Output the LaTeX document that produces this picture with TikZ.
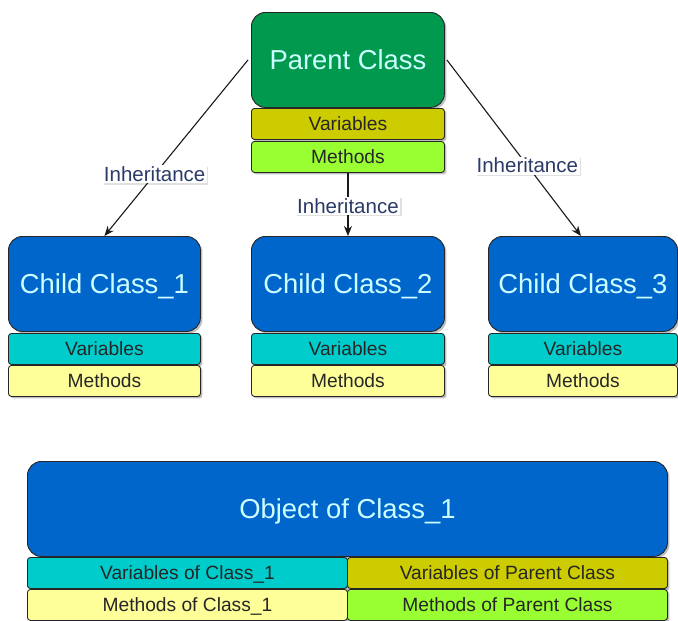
\documentclass[tikz,border=0pt]{standalone}
\usepackage{fontspec}
\setmainfont{Liberation Sans}
\usetikzlibrary{shadows,arrows.meta}
\definecolor{pgreen}{HTML}{00994D}
\definecolor{polive}{HTML}{CCCC00}
\definecolor{plime}{HTML}{99FF33}
\definecolor{cblue}{HTML}{0066CC}
\definecolor{ccyan}{HTML}{00CCCC}
\definecolor{cyell}{HTML}{FFFF99}
\definecolor{ltxt}{HTML}{CCFFFF}
\definecolor{ltext}{HTML}{2B3A67}
\tikzset{
  shad/.style={drop shadow={shadow xshift=2pt,shadow yshift=-2pt,fill=black,opacity=0.25}},
  bigbox/.style={draw=black!85, line width=0.9pt, rounded corners=14pt, anchor=north west,
    minimum height=95pt, inner sep=0pt, text=ltxt, font=\fontsize{27.4}{30}\selectfont,
    text height=20pt, text depth=0pt, shad},
  bar/.style={draw=black!85, line width=0.9pt, rounded corners=3pt, anchor=north west,
    minimum height=31pt, inner sep=0pt, text=black!85, font=\fontsize{19.2}{22}\selectfont,
    text height=14pt, text depth=0pt, shad},
  inh/.style={fill=white, text=ltext, inner sep=1.5pt, font=\fontsize{20.5}{22}\selectfont,
    drop shadow={shadow xshift=1.5pt,shadow yshift=-1.5pt,fill=black,opacity=0.12}},
  arr/.style={draw=black!90, line width=1.1pt, -{Stealth[length=10pt,width=8pt]}}
}
\begin{document}
\begin{tikzpicture}[x=1pt,y=-1pt]
\useasboundingbox (0,0) rectangle (678,621);
% Parent
\node[bigbox, fill=pgreen, minimum width=193pt] (par) at (251,12) {Parent Class};
\node[bar, fill=polive, minimum width=193pt] (parv) at (251,108) {Variables};
\node[bar, fill=plime, minimum width=193pt] (parm) at (251,141) {Methods};
% Child 1
\node[bigbox, fill=cblue, minimum width=192pt] (c1) at (8,236) {Child Class\_1};
\node[bar, fill=ccyan, minimum width=192pt] (c1v) at (8,333) {Variables};
\node[bar, fill=cyell, minimum width=192pt] (c1m) at (8,365) {Methods};
% Child 2
\node[bigbox, fill=cblue, minimum width=193pt] (c2) at (251,236) {Child Class\_2};
\node[bar, fill=ccyan, minimum width=193pt] (c2v) at (251,333) {Variables};
\node[bar, fill=cyell, minimum width=193pt] (c2m) at (251,365) {Methods};
% Child 3
\node[bigbox, fill=cblue, minimum width=189pt] (c3) at (488,236) {Child Class\_3};
\node[bar, fill=ccyan, minimum width=189pt] (c3v) at (488,333) {Variables};
\node[bar, fill=cyell, minimum width=189pt] (c3m) at (488,365) {Methods};
% Object
\node[bigbox, fill=cblue, minimum width=640pt] (obj) at (27,461) {Object of Class\_1};
\node[bar, fill=ccyan, minimum width=320pt] (ov1) at (27,557) {Variables of Class\_1};
\node[bar, fill=polive, minimum width=320pt] (ov2) at (347,557) {Variables of Parent Class};
\node[bar, fill=cyell, minimum width=320pt] (om1) at (27,589) {Methods of Class\_1};
\node[bar, fill=plime, minimum width=320pt] (om2) at (347,589) {Methods of Parent Class};
% Arrows
\draw[arr] ([xshift=-3pt]par.west) -- (c1.north) node[inh, pos=0.65] {Inheritance};
\draw[arr] (parm.south) -- (c2.north) node[inh, pos=0.52] {Inheritance};
\draw[arr] ([xshift=2pt]par.east) -- ([xshift=-2pt]c3.north) node[inh, pos=0.6] {Inheritance};
\end{tikzpicture}
\end{document}
